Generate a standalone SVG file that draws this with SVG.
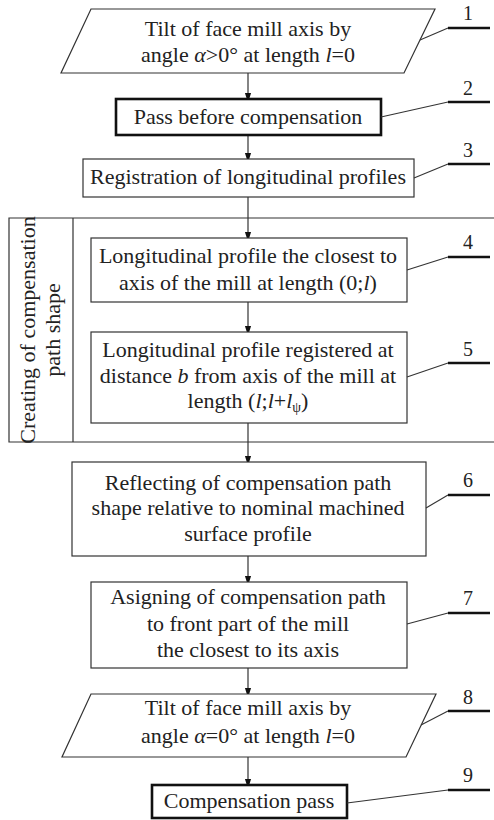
<svg xmlns="http://www.w3.org/2000/svg" width="494" height="820" viewBox="0 0 494 820">
  <style>
    .box { fill: #fff; stroke: #333; stroke-width: 1.2; }
    .bold { fill: #fff; stroke: #111; stroke-width: 2.6; }
    text { font-family: 'Liberation Serif', 'DejaVu Serif', serif; fill: #222; text-anchor: middle; }
    .t { font-size: 22px; }
    .num { font-size: 20px; }
    .i { font-style: italic; }
    .flow { stroke: #333; stroke-width: 1.2; fill: none; marker-end: url(#arr); }
    .lead { stroke: #333; stroke-width: 1.1; fill: none; }
    .shelf { stroke: #111; stroke-width: 2.6; fill: none; }
    .grp { stroke: #333; stroke-width: 1.2; fill: none; }
  </style>
  <defs>
    <marker id="arr" markerWidth="10" markerHeight="16" refX="10" refY="5" orient="auto" markerUnits="userSpaceOnUse" viewBox="0 0 16 10">
      <path d="M0,0 L16,5 L0,10 Z" fill="#111"/>
    </marker>
  </defs>

  <!-- group frame: creating of compensation path shape -->
  <g id="group-shape">
    <path class="grp" d="M494,218 H9 V442 H494 M73,218 V442"/>
    <text class="t" font-family="Liberation Serif, serif" transform="translate(35,330) rotate(-90)">Creating of compensation</text>
    <text class="t" font-family="Liberation Serif, serif" transform="translate(60,330) rotate(-90)">path shape</text>
  </g>

  <!-- connectors -->
  <g id="connectors">
    <path class="flow" d="M248,73 V99"/>
    <path class="flow" d="M248,135 V159"/>
    <path class="flow" d="M248,197 V238"/>
    <path class="flow" d="M248,302 V332"/>
    <path class="flow" d="M248,423 V462"/>
    <path class="flow" d="M248,556 V582"/>
    <path class="flow" d="M248,668 V694"/>
    <path class="flow" d="M248,757 V785"/>
  </g>

  <g id="node1">
    <polygon class="box" points="91,9 435,9 404,73 61,73"/>
    <text class="t" x="248" y="36">Tilt of face mill axis by</text>
    <text class="t" x="248" y="62">angle <tspan class="i">α</tspan>&gt;0° at length <tspan class="i">l</tspan>=0</text>
    <path class="lead" d="M420,40 L448,28"/><path class="shelf" d="M448,28 H490"/>
    <text class="num" x="468" y="20">1</text>
  </g>

  <g id="node2">
    <rect class="bold" x="116" y="99" width="265" height="36"/>
    <text class="t" x="248" y="124">Pass before compensation</text>
    <path class="lead" d="M381,117 L448,102"/><path class="shelf" d="M448,102 H490"/>
    <text class="num" x="468" y="95">2</text>
  </g>

  <g id="node3">
    <rect class="box" x="83" y="159" width="331" height="38"/>
    <text class="t" x="248" y="184">Registration of longitudinal profiles</text>
    <path class="lead" d="M414,178 L448,164"/><path class="shelf" d="M448,164 H490"/>
    <text class="num" x="468" y="157">3</text>
  </g>

  <g id="node4">
    <rect class="box" x="91" y="238" width="316" height="64"/>
    <text class="t" x="248" y="263">Longitudinal profile the closest to</text>
    <text class="t" x="248" y="290">axis of the mill at length (0;<tspan class="i">l</tspan>)</text>
    <path class="lead" d="M407,270 L448,257"/><path class="shelf" d="M448,257 H490"/>
    <text class="num" x="468" y="249">4</text>
  </g>

  <g id="node5">
    <rect class="box" x="91" y="332" width="316" height="91"/>
    <text class="t" x="248" y="357">Longitudinal profile registered at</text>
    <text class="t" x="248" y="383">distance <tspan class="i">b</tspan> from axis of the mill at</text>
    <text class="t" x="248" y="408">length (<tspan class="i">l</tspan>;<tspan class="i">l</tspan>+<tspan class="i">l</tspan><tspan font-size="14" dy="4">ψ</tspan><tspan dy="-4">)</tspan></text>
    <path class="lead" d="M407,377 L448,363"/><path class="shelf" d="M448,363 H490"/>
    <text class="num" x="468" y="356">5</text>
  </g>

  <g id="node6">
    <rect class="box" x="72" y="462" width="354" height="94"/>
    <text class="t" x="248" y="490">Reflecting of compensation path</text>
    <text class="t" x="248" y="515">shape relative to nominal machined</text>
    <text class="t" x="248" y="541">surface profile</text>
    <path class="lead" d="M426,508 L448,495"/><path class="shelf" d="M448,495 H490"/>
    <text class="num" x="468" y="487">6</text>
  </g>

  <g id="node7">
    <rect class="box" x="91" y="582" width="316" height="86"/>
    <text class="t" x="248" y="604">Asigning of compensation path</text>
    <text class="t" x="248" y="631">to front part of the mill</text>
    <text class="t" x="248" y="657">the closest to its axis</text>
    <path class="lead" d="M407,624 L448,613"/><path class="shelf" d="M448,613 H490"/>
    <text class="num" x="468" y="605">7</text>
  </g>

  <g id="node8">
    <polygon class="box" points="91,694 436,694 406,757 62,757"/>
    <text class="t" x="248" y="715">Tilt of face mill axis by</text>
    <text class="t" x="248" y="743">angle <tspan class="i">α</tspan>=0° at length <tspan class="i">l</tspan>=0</text>
    <path class="lead" d="M421,725 L448,711"/><path class="shelf" d="M448,711 H490"/>
    <text class="num" x="468" y="704">8</text>
  </g>

  <g id="node9">
    <rect class="bold" x="152" y="785" width="195" height="33"/>
    <text class="t" x="249" y="808">Compensation pass</text>
    <path class="lead" d="M347,803 L448,790"/><path class="shelf" d="M448,790 H490"/>
    <text class="num" x="468" y="782">9</text>
  </g>
</svg>
